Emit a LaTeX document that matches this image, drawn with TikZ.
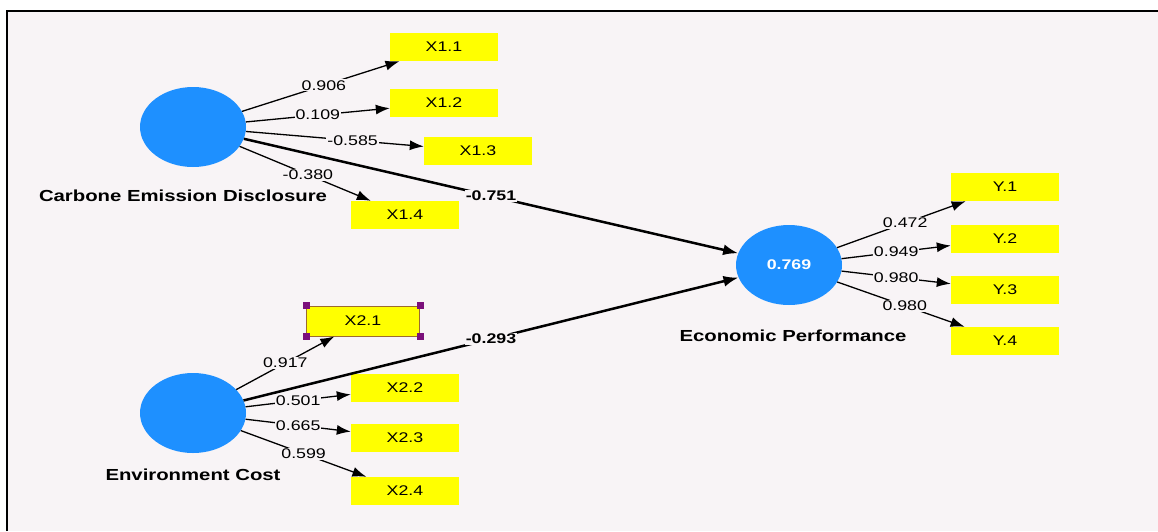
\documentclass[tikz,border=0pt]{standalone}
\usepackage{fontspec}
\setmainfont{Liberation Sans}[FakeStretch=1.27]
\usetikzlibrary{shapes.geometric,arrows.meta}
\definecolor{bgc}{HTML}{F8F4F6}
\definecolor{cblue}{HTML}{1E90FF}
\definecolor{cyellow}{HTML}{FFFF00}
\definecolor{cselb}{HTML}{9C6B2E}
\definecolor{cpurp}{HTML}{7B107B}
\begin{document}
\begin{tikzpicture}[x=1pt,y=-1pt,
 lat/.style={ellipse, fill=cblue, minimum width=106pt, minimum height=80pt, inner sep=0pt},
 indbox/.style={rectangle, fill=cyellow, minimum width=108pt, minimum height=28pt, inner sep=0pt, font=\fontsize{14}{14}\selectfont},
 lvname/.style={font=\bfseries\fontsize{16}{16}\selectfont},
 loadarrow/.style={-{Latex[length=14pt,width=10pt]}, line width=1.3pt},
 patharrow/.style={-{Latex[length=15pt,width=11pt]}, line width=2.5pt},
 lab/.style={fill=bgc, inner sep=1pt, font=\fontsize{14}{14}\selectfont},
 blab/.style={fill=bgc, inner sep=1pt, font=\bfseries\fontsize{14}{14}\selectfont},
 corner/.style={rectangle, fill=cpurp, minimum size=7pt, inner sep=0pt}]
\useasboundingbox (0,0) rectangle (1158,531);
\fill[white] (0,0) rectangle (1158,531);
\fill[bgc] (7,11) rectangle (1158,531);
\draw[line width=1.5pt] (7,531) -- (7,11) -- (1158,11);

% latent variables
\node[lat] (ced) at (193,127) {};
\node[lat] (ec) at (193,413) {};
\node[lat, font=\bfseries\fontsize{14}{14}\selectfont, text=white] (ep) at (789,265) {0.769};
\node[lvname] (cedn) at (183,196) {Carbone Emission Disclosure};
\node[lvname] (ecn) at (193,475) {Environment Cost};
\node[lvname] (epn) at (793,336) {Economic Performance};

% indicators
\node[indbox] (x11) at (444,47) {X1.1};
\node[indbox] (x12) at (444,103) {X1.2};
\node[indbox] (x13) at (478,151) {X1.3};
\node[indbox] (x14) at (405,215) {X1.4};
\node[indbox, minimum width=113pt, minimum height=30pt, draw=cselb, line width=1pt] (x21) at (363,321) {X2.1};
\node[indbox] (x22) at (405,388) {X2.2};
\node[indbox] (x23) at (405,438) {X2.3};
\node[indbox] (x24) at (405,491) {X2.4};
\node[indbox] (y1) at (1005,187) {Y.1};
\node[indbox] (y2) at (1005,239) {Y.2};
\node[indbox] (y3) at (1005,290) {Y.3};
\node[indbox] (y4) at (1005,341) {Y.4};

% selection handles
\node[corner] (h1) at (x21.north west) {};
\node[corner] (h2) at (x21.north east) {};
\node[corner] (h3) at (x21.south west) {};
\node[corner] (h4) at (x21.south east) {};

% loadings
\draw[loadarrow] (ced) -- node[lab, pos=0.52] {0.906} (x11);
\draw[loadarrow] (ced) -- node[lab, pos=0.5] {0.109} (x12);
\draw[loadarrow] (ced) -- node[lab, pos=0.6] {-0.585} (x13);
\draw[loadarrow] (ced) -- node[lab, pos=0.52] {-0.380} (x14);

\draw[loadarrow] (ec) -- node[lab, pos=0.5] {0.917} (x21);
\draw[loadarrow] (ec) -- node[lab, pos=0.5] {0.501} (x22);
\draw[loadarrow] (ec) -- node[lab, pos=0.5] {0.665} (x23);
\draw[loadarrow] (ec) -- node[lab, pos=0.5] {0.599} (x24);

\draw[loadarrow] (ep) -- node[lab, pos=0.53] {0.472} (y1);
\draw[loadarrow] (ep) -- node[lab, pos=0.5] {0.949} (y2);
\draw[loadarrow] (ep) -- node[lab, pos=0.5] {0.980} (y3);
\draw[loadarrow] (ep) -- node[lab, pos=0.53] {0.980} (y4);

% paths
\draw[patharrow] (ced) -- node[blab, pos=0.5] {-0.751} (ep);
\draw[patharrow] (ec) -- node[blab, pos=0.5] {-0.293} (ep);
\end{tikzpicture}
\end{document}
